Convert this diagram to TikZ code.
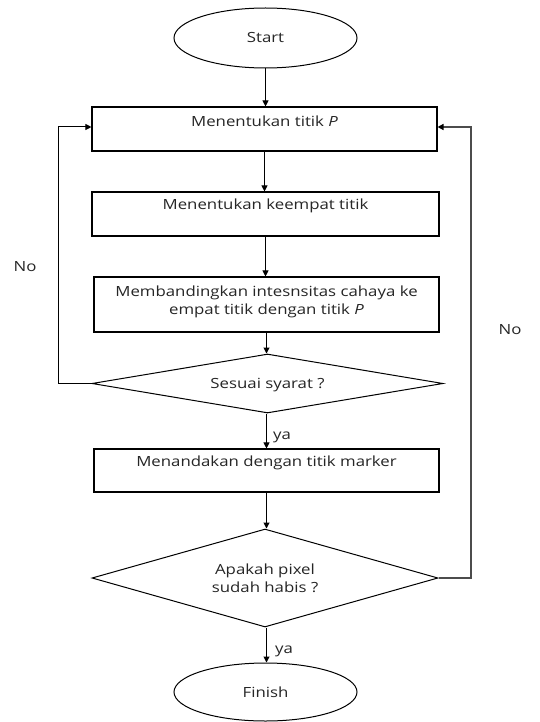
\documentclass[tikz,border=0pt]{standalone}
\usepackage{fontspec}
\setmainfont{Open Sans}[FakeStretch=1.2]
\usetikzlibrary{shapes.geometric,arrows.meta}
\begin{document}
\begin{tikzpicture}[x=1pt,y=-1pt,
  every node/.style={font=\fontsize{14}{18.5}\selectfont, text=black!85},
  term/.style={draw, ellipse, line width=1pt, minimum width=183pt, minimum height=60pt, inner sep=0pt},
  procbox/.style={draw, rectangle, line width=1.1pt, inner sep=0pt},
  decis/.style={draw, diamond, line width=1pt, inner sep=0pt},
  flow/.style={line width=1pt, -{Triangle[length=6pt,width=6pt]}},
  loopline/.style={line width=1.5pt, black!70, -{Triangle[length=6pt,width=6pt,color=black]}},
  lbl/.style={inner sep=0pt}
]
\fill[white] (0,0) rectangle (540,722);
\useasboundingbox (0,0) rectangle (540,722);

\node[term] (start) at (265.5,38) {Start};
\node[procbox, minimum width=345pt, minimum height=44pt] (b1) at (264.5,129) {};
\node[lbl] (t1) at (264.5,121) {Menentukan titik \textit{P}};
\node[procbox, minimum width=347pt, minimum height=44pt] (b2) at (265.5,214) {};
\node[lbl] (t2) at (265.5,206) {Menentukan keempat titik};
\node[procbox, minimum width=345pt, minimum height=55pt, align=center] (b3) at (266.5,304.5) {};
\node[lbl, align=center] (t3) at (266.5,302) {Membandingkan intesnsitas cahaya ke\\empat titik dengan titik \textit{P}};
\node[decis, minimum width=351pt, minimum height=59pt] (d1) at (267.5,383.5) {};
\node[lbl] (t4) at (267.5,385) {Sesuai syarat ?};
\node[procbox, minimum width=345pt, minimum height=43pt] (b4) at (266.5,470.5) {};
\node[lbl] (t5) at (266.5,463) {Menandakan dengan titik marker};
\node[decis, minimum width=346pt, minimum height=98pt] (d2) at (265,578) {};
\node[lbl, align=center] (t6) at (265,578.5) {Apakah pixel\\sudah habis ?};
\node[term, minimum height=58pt] (fin) at (265.5,692) {Finish};

\draw[flow] (start.south) -- (start.south |- b1.north);
\draw[flow] (b1.south) -- (b1.south |- b2.north);
\draw[flow] (b2.south) -- (b2.south |- b3.north);
\draw[flow] (b3.south) -- (b3.south |- d1.north);
\draw[flow] (d1.south -| b3.south) -- (b3.south |- b4.north);
\draw[flow] (b4.south -| b3.south) -- (b3.south |- d2.north);
\draw[flow] (d2.south -| b3.south) -- (b3.south |- fin.north);

\coordinate (lc) at (58,383.5);
\coordinate (rc) at (471,578);
\draw[line width=1pt, -{Triangle[length=6pt,width=6pt]}] (d1.west) -- (lc) -- (58,127) -- (b1.west |- 0,127);
\draw[loopline] (d2.east) -- (rc) -- (471,127) -- (b1.east |- 0,127);

\node[lbl] (no1) at (25,267) {No};
\node[lbl] (no2) at (510,330) {No};
\node[lbl] (ya1) at (282,437) {ya};
\node[lbl] (ya2) at (284,651) {ya};
\end{tikzpicture}
\end{document}
